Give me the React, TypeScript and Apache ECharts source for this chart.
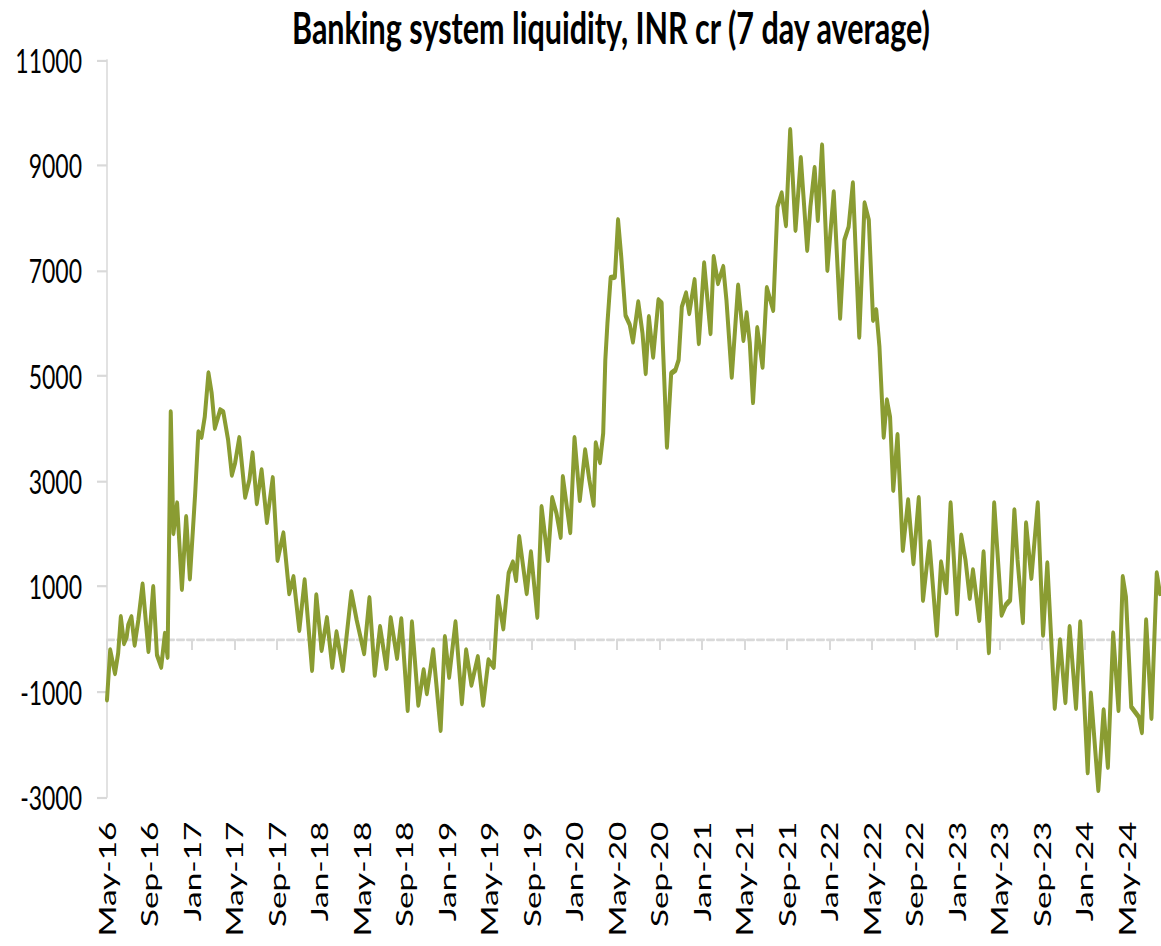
import { useEffect, useRef } from "react";
import * as echarts from "echarts";

const TITLE = "Banking system liquidity, INR cr (7 day average)";

// x-axis labels, one every four months starting May 2016
const tickLabels = [
  "May-16", "Sep-16", "Jan-17", "May-17", "Sep-17", "Jan-18", "May-18",
  "Sep-18", "Jan-19", "May-19", "Sep-19", "Jan-20", "May-20", "Sep-20",
  "Jan-21", "May-21", "Sep-21", "Jan-22", "May-22", "Sep-22", "Jan-23",
  "May-23", "Sep-23", "Jan-24", "May-24",
];
const MONTHS_PER_TICK = 4;
const X_MAX_MONTHS = 99.2;

const Y_MIN = -3000;
const Y_MAX = 11000;
const Y_STEP = 2000;

// [months since May 2016, liquidity in INR cr]
const fy2017: [number, number][] = [
  [0.0, -1150], [0.3, -210], [0.75, -650], [1.05, -270], [1.3, 420], [1.6, -80],
  [1.85, 40], [2.0, 270], [2.3, 420], [2.6, -110], [2.95, 360], [3.35, 1040],
  [3.9, -230], [4.35, 990], [4.7, -300], [5.1, -530], [5.45, 100], [5.7, -340],
  [6.0, 4310], [6.25, 2010], [6.6, 2580], [7.05, 950], [7.45, 2320], [7.8, 1150],
  [8.3, 2770], [8.6, 3930], [8.9, 3840], [9.2, 4220], [9.55, 5050], [9.85, 4670],
  [10.15, 4010], [10.65, 4350], [10.95, 4310], [11.4, 3780], [11.75, 3120],
];
const fy2018: [number, number][] = [
  [12.05, 3340], [12.45, 3820], [13.0, 2700], [13.4, 3020], [13.7, 3530],
  [14.1, 2580], [14.55, 3210], [15.05, 2220], [15.6, 3060], [16.05, 1500],
  [16.6, 2010], [17.15, 870], [17.55, 1180], [18.1, 170], [18.6, 1120],
  [19.3, -590], [19.7, 835], [20.2, -210], [20.7, 400], [21.2, -530],
  [21.6, 130], [22.2, -590], [23.0, 890], [23.5, 360],
];
const fy2019: [number, number][] = [
  [24.2, -270], [24.7, 780], [25.2, -680], [25.7, 230], [26.3, -550],
  [26.7, 400], [27.3, -360], [27.7, 380], [28.3, -1350], [28.7, 320],
  [29.3, -1250], [29.8, -590], [30.1, -1030], [30.7, -210], [31.4, -1730],
  [31.8, 40], [32.2, -720], [32.8, 320], [33.4, -1220], [33.8, -210],
  [34.3, -870], [34.9, -340], [35.4, -1250], [35.9, -400],
];
const fy2020: [number, number][] = [
  [36.4, -530], [36.8, 800], [37.3, 200], [37.8, 1250], [38.2, 1460],
  [38.5, 1120], [38.8, 1940], [39.5, 870], [39.9, 1650], [40.5, 420],
  [40.9, 2510], [41.5, 1500], [41.9, 2680], [42.3, 2390], [42.7, 1940],
  [42.9, 3080], [43.6, 2030], [44.0, 3820], [44.5, 2640], [45.0, 3590],
  [45.4, 3020], [45.8, 2550], [46.0, 3720], [46.4, 3360], [46.7, 3910],
  [46.9, 5300], [47.1, 6000], [47.4, 6860], [47.8, 6880],
];
const fy2021: [number, number][] = [
  [48.1, 7960], [48.4, 7260], [48.8, 6150], [49.2, 5970], [49.5, 5650],
  [50.0, 6400], [50.4, 5810], [50.7, 5050], [51.0, 6120], [51.4, 5360],
  [51.9, 6440], [52.2, 6380], [52.3, 5680], [52.7, 3650], [53.1, 5050],
  [53.5, 5110], [53.8, 5300], [54.1, 6310], [54.5, 6570], [54.8, 6190],
  [55.3, 6820], [55.7, 5620], [56.2, 7140], [56.8, 5810], [57.1, 7260],
  [57.5, 6760], [58.0, 7070], [58.3, 6440], [58.8, 4980], [59.4, 6720],
  [59.9, 5680],
];
const fy2022: [number, number][] = [
  [60.2, 6190], [60.5, 5620], [60.8, 4500], [61.2, 5910], [61.7, 5170],
  [62.1, 6670], [62.7, 6250], [63.1, 8210], [63.5, 8470], [63.9, 7860],
  [64.3, 9670], [64.8, 7770], [65.3, 9140], [65.9, 7390], [66.2, 8210],
  [66.6, 8950], [66.9, 7960], [67.3, 9380], [67.8, 7010], [68.4, 8490],
  [69.0, 6100], [69.4, 7580], [69.8, 7830], [70.2, 8660], [70.8, 5740],
  [71.3, 8280], [71.7, 7960],
];
const fy2023: [number, number][] = [
  [72.1, 6060], [72.4, 6250], [72.7, 5550], [73.1, 3840], [73.4, 4540],
  [73.7, 4220], [74.0, 2830], [74.4, 3880], [74.9, 1690], [75.4, 2640],
  [75.9, 1440], [76.4, 2680], [76.8, 740], [77.4, 1840], [78.1, 80],
  [78.5, 1460], [79.0, 890], [79.4, 2580], [80.0, 490], [80.4, 1970],
  [80.8, 1500], [81.2, 780], [81.5, 1310], [82.1, 360], [82.5, 1650],
  [83.0, -250], [83.5, 2580],
];
const fy2024: [number, number][] = [
  [84.2, 460], [84.6, 650], [85.0, 740], [85.4, 2450], [85.7, 1500],
  [86.2, 320], [86.5, 2200], [87.0, 1160], [87.6, 2580], [88.1, 80],
  [88.5, 1440], [89.2, -1310], [89.7, -20], [90.2, -1200], [90.6, 230],
  [91.2, -1310], [91.6, 320], [92.3, -2530], [92.6, -1030], [93.3, -2870],
  [93.8, -1350], [94.2, -2430], [94.7, 110], [95.2, -1350], [95.6, 1180],
  [95.9, 800],
];
const fy2025: [number, number][] = [
  [96.4, -1290], [97.1, -1480], [97.4, -1770], [97.8, 360], [98.3, -1500],
  [98.8, 1250], [99.1, 870],
];

const liquidity = [
  ...fy2017, ...fy2018, ...fy2019, ...fy2020,
  ...fy2021, ...fy2022, ...fy2023, ...fy2024, ...fy2025,
];

// The chart is drawn in a shorter box and stretched vertically to the page.
const PAGE_W = 1161;
const PAGE_H = 946;
const BOX_H = 652;
const STRETCH = PAGE_H / BOX_H;

const LINE_GREEN = "#8a9c32";
const AXIS_GREY = "#d9d9d9";
const FONT = "Lato, 'Noto Sans', sans-serif";

const tickValues = tickLabels.map((_, i) => i * MONTHS_PER_TICK);

export default function App() {
  const ref = useRef<HTMLDivElement>(null);

  useEffect(() => {
    if (!ref.current) return;
    const chart = echarts.init(ref.current, undefined, { renderer: "svg" });
    chart.setOption({
      animation: false,
      backgroundColor: "#ffffff",
      graphic: [
        {
          type: "text",
          x: 611,
          y: 3,
          style: {
            text: TITLE,
            fill: "#000000",
            font: `bold 30.5px ${FONT}`,
            textAlign: "center",
            textVerticalAlign: "top",
          },
        },
      ],
      grid: { left: 107, right: 0, top: 41.35, bottom: 102.7, containLabel: false },
      xAxis: [
        {
          type: "value",
          min: 0,
          max: X_MAX_MONTHS,
          position: "bottom",
          axisLine: {
            show: true,
            onZero: true,
            lineStyle: { color: AXIS_GREY, width: 2, type: [7, 3] },
          },
          axisTick: {
            show: true,
            length: 7.5,
            customValues: tickValues,
            lineStyle: { color: AXIS_GREY, width: 2 },
          },
          axisLabel: { show: false },
          splitLine: { show: false },
        },
        {
          type: "value",
          min: 0,
          max: X_MAX_MONTHS,
          position: "bottom",
          axisLine: { show: false, onZero: false },
          axisTick: { show: false },
          splitLine: { show: false },
          axisLabel: {
            show: true,
            customValues: tickValues,
            rotate: 90,
            margin: 17,
            fontFamily: FONT,
            fontSize: 23,
            color: "#000000",
            formatter: (v: number) => tickLabels[Math.round(v / MONTHS_PER_TICK)] ?? "",
          },
        },
      ],
      yAxis: {
        type: "value",
        min: Y_MIN,
        max: Y_MAX,
        interval: Y_STEP,
        axisLine: { show: true, onZero: false, lineStyle: { color: AXIS_GREY, width: 1.5 } },
        axisTick: { show: true, length: 10, lineStyle: { color: AXIS_GREY, width: 1.5 } },
        axisLabel: {
          margin: 25,
          fontFamily: FONT,
          fontSize: 23,
          color: "#000000",
          formatter: (v: number) => String(v),
        },
        splitLine: { show: false },
      },
      series: [
        {
          type: "line",
          xAxisIndex: 0,
          yAxisIndex: 0,
          data: liquidity,
          showSymbol: false,
          symbol: "none",
          lineStyle: { color: LINE_GREEN, width: 4, join: "round", cap: "round" },
          itemStyle: { color: LINE_GREEN },
        },
      ],
    });
    return () => chart.dispose();
  }, []);

  return (
    <div
      style={{
        position: "absolute",
        left: 0,
        top: 0,
        width: PAGE_W,
        height: PAGE_H,
        overflow: "hidden",
        background: "#ffffff",
      }}
    >
      <div
        ref={ref}
        style={{
          width: PAGE_W,
          height: BOX_H,
          transform: `scaleY(${STRETCH})`,
          transformOrigin: "0 0",
        }}
      />
    </div>
  );
}
